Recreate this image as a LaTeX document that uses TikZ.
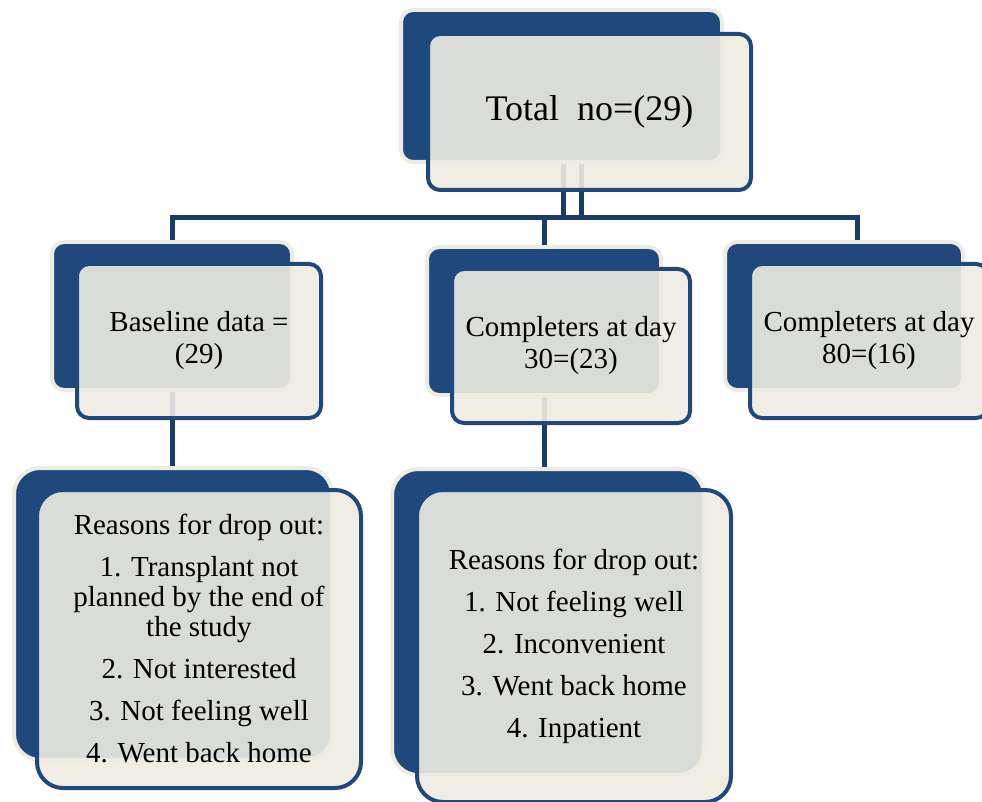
\documentclass[tikz,border=0pt]{standalone}
\usepackage{fontspec}
\setmainfont{Liberation Serif}
\usetikzlibrary{positioning}

\definecolor{navy}{HTML}{1F497D}
\definecolor{wire}{HTML}{1A3D68}
\definecolor{paper}{HTML}{EEECE1}

\pgfdeclarelayer{back}
\pgfdeclarelayer{links}
\pgfsetlayers{back,links,main}

\tikzset{
  frontbox/.style={draw=navy, line width=4pt, fill=paper, fill opacity=0.9,
    text opacity=1, rounded corners=12pt, align=center, inner sep=0pt, outer sep=2pt},
  backbox/.style={draw=paper, line width=4pt, fill=navy, rounded corners=12pt,
    outer sep=2pt},
  link/.style={draw=wire, line width=5pt},
  bigtext/.style={font=\fontsize{36}{40}\selectfont},
  midtext/.style={font=\fontsize{29}{32}\selectfont},
  listtext/.style={font=\fontsize{29}{30}\selectfont}
}

\begin{document}
\begin{tikzpicture}[x=1pt, y=-1pt]
\useasboundingbox (0,0) rectangle (982,802);
\clip (0,0) rectangle (982,802);

% front boxes
\node[frontbox, bigtext, minimum width=323pt, minimum height=156pt] (total) at (589.5,112) {Total~~no=(29)};
\node[frontbox, midtext, minimum width=244pt, minimum height=154pt] (base) at (199,341) {Baseline data =\\(29)};
\node[frontbox, midtext, minimum width=238pt, minimum height=154pt] (day30) at (571,346) {Completers at day\\30=(23)};
\node[frontbox, midtext, minimum width=238pt, minimum height=154pt] (day80) at (869,341) {Completers at day\\80=(16)};
\node[frontbox, listtext, rounded corners=26pt, minimum width=324pt, minimum height=298pt] (dropA) at (199,639)
  {Reasons for drop out:\\[12pt]1. Transplant not\\planned by the end of\\the study\\[12pt]2. Not interested\\[12pt]3. Not feeling well\\[12pt]4. Went back home};
\node[frontbox, listtext, rounded corners=26pt, minimum width=314pt, minimum height=312pt] (dropB) at (574,646)
  {Reasons for drop out:\\[12pt]1. Not feeling well\\[12pt]2. Inconvenient\\[12pt]3. Went back home\\[12pt]4. Inpatient};

% back boxes
\begin{pgfonlayer}{back}
\node[backbox, minimum width=321pt, minimum height=152pt] (totalback) at ([shift={(-28,-26)}]total.center) {};
\node[backbox, minimum width=240pt, minimum height=148pt] (baseback) at ([shift={(-27,-25)}]base.center) {};
\node[backbox, minimum width=234pt, minimum height=148pt] (day30back) at ([shift={(-27,-25)}]day30.center) {};
\node[backbox, minimum width=238pt, minimum height=148pt] (day80back) at ([shift={(-25,-25)}]day80.center) {};
\node[backbox, rounded corners=26pt, minimum width=318pt, minimum height=292pt] (dropAback) at ([shift={(-26,-25)}]dropA.center) {};
\node[backbox, rounded corners=26pt, minimum width=312pt, minimum height=306pt] (dropBback) at ([shift={(-26,-24)}]dropB.center) {};
\end{pgfonlayer}

% connectors
\begin{pgfonlayer}{links}
\coordinate (spine) at (0,218);
\draw[link] (baseback.north) -- (baseback.north |- spine)
  -- ([xshift=13pt]day80back.north |- spine) -- ([xshift=13pt]day80back.north);
\draw[link] (day30back.north |- spine) -- (day30back.north);
\draw[link] ([xshift=1.5pt]totalback.south) -- ([xshift=1.5pt]totalback.south |- spine);
\draw[link] ([xshift=19.5pt]totalback.south) -- ([xshift=19.5pt]totalback.south |- spine);
\draw[link] (baseback.south) -- (baseback.south |- dropAback.north);
\draw[link] (day30back.south) -- (day30back.south |- dropBback.north);
\end{pgfonlayer}
\end{tikzpicture}
\end{document}
